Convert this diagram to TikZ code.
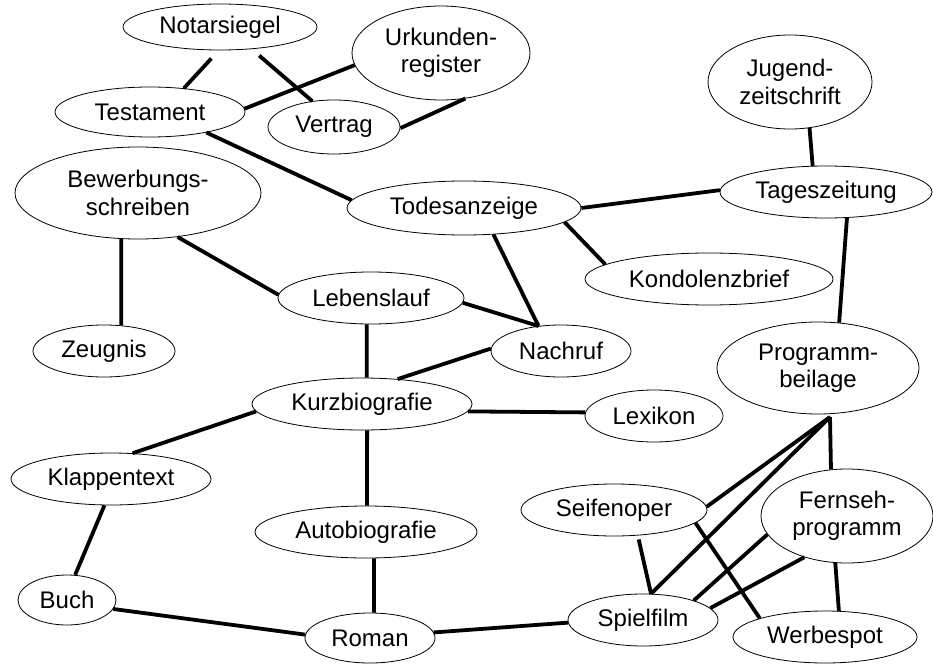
\documentclass[tikz,border=0pt]{standalone}
\usepackage{fontspec}
\setmainfont{Liberation Sans}
\usetikzlibrary{shapes.geometric}

\begin{document}
\begin{tikzpicture}[%
            x=1pt,
            y=-1pt,
            ]
    \tikzset{ent/.style = {ellipse, draw, line width=0.8pt, inner sep=0pt, align=center, font=\fontsize{24}{27.5}\selectfont}}
    \tikzset{link/.style = {line width=3.8pt}}

    \useasboundingbox[fill=white] (0,0) rectangle (933,663);

    % Urkunden
    \node[ent, minimum width=194, minimum height=46] (nota) at (220,27) {Notarsiegel};
    \node[ent, minimum width=190, minimum height=50] (test) at (150,112) {Testament};
    \node[ent, minimum width=132, minimum height=54] (vert) at (334,127) {Vertrag};
    \node[ent, minimum width=178, minimum height=94] (urk) at (441,53) {Urkunden-\\register};

    % Presse
    \node[ent, minimum width=234, minimum height=54] (todes) at (464,208) {Todesanzeige};
    \node[ent, minimum width=164, minimum height=94] (jug) at (790,82) {Jugend-\\zeitschrift};
    \node[ent, minimum width=212, minimum height=52] (tages) at (826,192) {Tageszeitung};
    \node[ent, minimum width=248, minimum height=52] (kond) at (709,279) {Kondolenzbrief};
    \node[ent, minimum width=140, minimum height=52] (nach) at (561,351) {Nachruf};

    % Bewerbung
    \node[ent, minimum width=246, minimum height=92] (bew) at (138,193) {Bewerbungs-\\schreiben};
    \node[ent, minimum width=142, minimum height=52] (zeug) at (104,351) {Zeugnis};
    \node[ent, minimum width=186, minimum height=52] (lebens) at (371,298) {Lebenslauf};

    % Biografie & Buch
    \node[ent, minimum width=220, minimum height=52] (kurz) at (362,404) {Kurzbiografie};
    \node[ent, minimum width=138, minimum height=52] (lex) at (654,416) {Lexikon};
    \node[ent, minimum width=200, minimum height=52] (klapp) at (111,479) {Klappentext};
    \node[ent, minimum width=222, minimum height=52] (auto) at (366,532) {Autobiografie};
    \node[ent, minimum width=98, minimum height=50] (buch) at (67,600) {Buch};
    \node[ent, minimum width=130, minimum height=50] (roman) at (370,638) {Roman};

    % Fernsehen
    \node[ent, minimum width=202, minimum height=92] (prog) at (818,368) {Programm-\\beilage};
    \node[ent, minimum width=172, minimum height=94] (fern) at (847,516) {Fernseh-\\programm};
    \node[ent, minimum width=186, minimum height=52] (seif) at (614,510) {Seifenoper};
    \node[ent, minimum width=150, minimum height=52] (spiel) at (643,620) {Spielfilm};
    \node[ent, minimum width=184, minimum height=52] (werb) at (825,637) {Werbespot};
    \coordinate (hub) at (830,417);

    % Verbindungen
    \draw[link, shorten <=11pt] (nota.-93) -- (test.35);
    \draw[link, shorten <=10pt] (nota.-35) -- (vert.130);
    \draw[link] (test.2) -- (urk.188);
    \draw[link] (vert.-1) -- (urk.-62);
    \draw[link] (test.-20) -- (todes.176);
    \draw[link] (todes.0) -- (tages.179);
    \draw[link] (jug.-67) -- (tages.117);
    \draw[link] (tages.-51) -- (prog.65);
    \draw[link] (todes.-42) -- (nach.132);
    \draw[link] (todes.-8) -- (kond.172);
    \draw[link] (bew.-110) -- (zeug.56);
    \draw[link] (bew.-48) -- (lebens.178);
    \draw[link] (lebens.-99) -- (kurz.80);
    \draw[link] (lebens.-3) -- (nach.132);
    \draw[link] (kurz.35) -- (nach.178);
    \draw[link] (kurz.-4) -- (lex.177);
    \draw[link] (kurz.184) -- (klapp.50);
    \draw[link] (kurz.-79) -- (auto.88);
    \draw[link] (auto.-73) -- (roman.81);
    \draw[link] (klapp.-104) -- (buch.72);
    \draw[link] (buch.-11) -- (roman.177);
    \draw[link] (roman.5) -- (spiel.182);
    \draw[link] (hub) -- (seif.2);
    \draw[link] (hub) -- (spiel.73);
    \draw[link] (hub) -- (fern.109);
    \draw[link, shorten <=4pt] (seif.-47) -- (spiel.73);
    \draw[link] (seif.-9) -- (werb.164);
    \draw[link] (fern.193) -- (spiel.21);
    \draw[link] (fern.224) -- (spiel.10);
    \draw[link] (fern.256) -- (werb.62);

\end{tikzpicture}
\end{document}
